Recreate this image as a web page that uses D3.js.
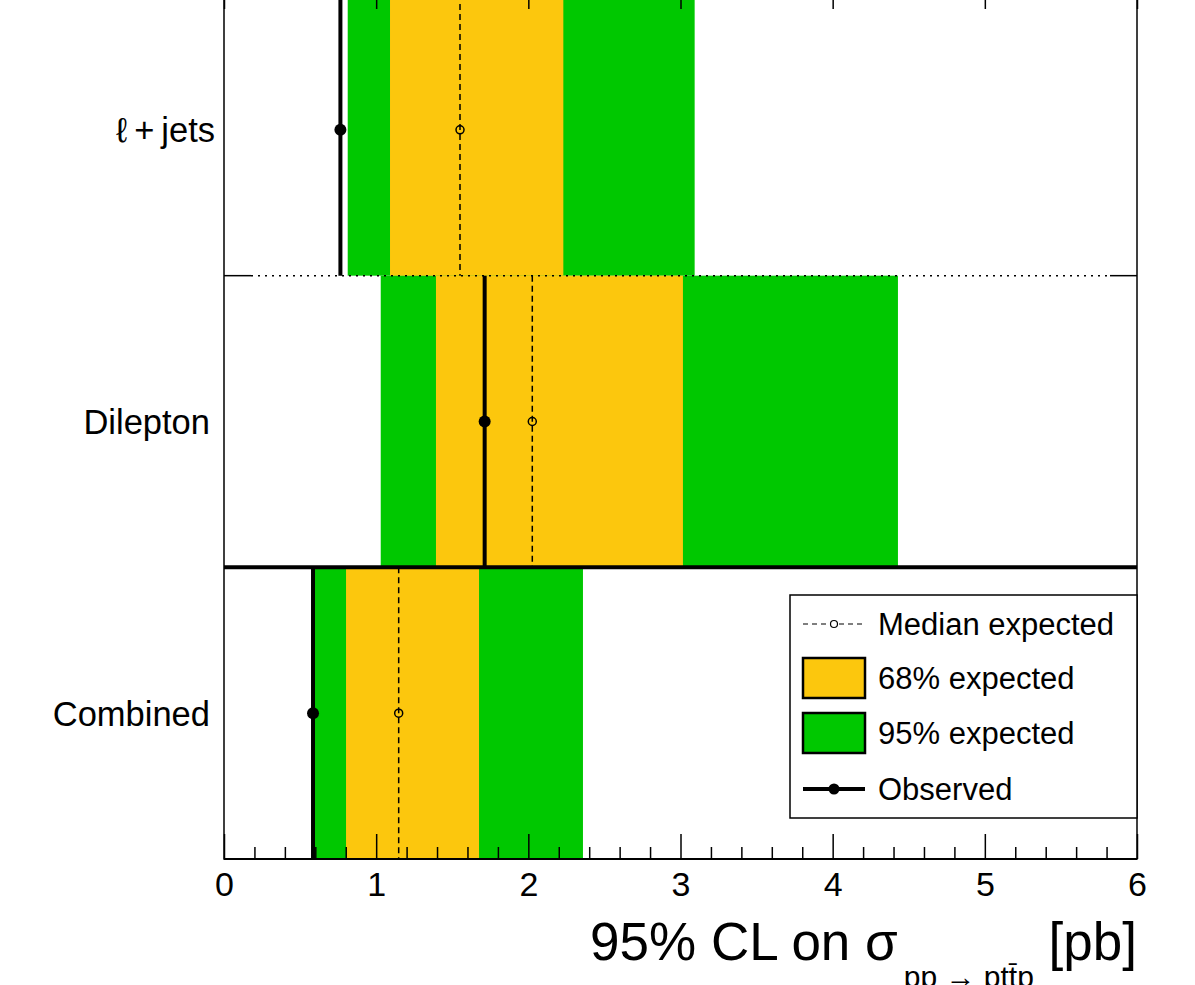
<!DOCTYPE html>
<html>
<head>
<meta charset="utf-8">
<script src="https://cdn.jsdelivr.net/npm/d3@7"></script>
<style>
    body { margin: 0; background: #fff; }
    text { font-family: 'Liberation Sans', Arial, Helvetica, sans-serif; fill: #000; }
</style>
</head>
<body>
<svg width="1195" height="985"></svg>
<script>
// channels, top to bottom
const channels = ['\u2113\u2009+\u2009jets', 'Dilepton', 'Combined'];
// limits in pb
const observed = [0.765, 1.713, 0.585];
const median = [1.551, 2.026, 1.148];
const lo68 = [1.091, 1.393, 0.802];
const hi68 = [2.230, 3.016, 1.676];
const lo95 = [0.813, 1.030, 0.598];
const hi95 = [3.093, 4.429, 2.359];
const xTicks = [0, 1, 2, 3, 4, 5, 6];
const legendLabels = ['Median expected', '68% expected', '95% expected', 'Observed'];

document.addEventListener('DOMContentLoaded', function() {
    let svg = d3.select('svg');

    let left = 224, right = 1137, top = -16, bottom = 859;
    let yellow = '#fcc70d', green = '#00c800';

    let x = d3.scaleLinear().domain([0, 6]).range([left, right]);
    let y = d3.scaleBand().domain(channels).range([top, bottom]);

    let rows = channels.map(function(c, i) {
        return { name: c, obs: observed[i], med: median[i],
                 lo68: lo68[i], hi68: hi68[i], lo95: lo95[i], hi95: hi95[i] };
    });

    let plot = svg.append('g').attr('class', 'bands');

    // 95% band
    plot.selectAll('rect.b95')
        .data(rows)
        .join('rect')
        .attr('class', 'b95')
        .attr('x', d => x(d.lo95))
        .attr('width', d => x(d.hi95) - x(d.lo95))
        .attr('y', d => y(d.name))
        .attr('height', y.bandwidth())
        .attr('fill', green);

    // 68% band
    plot.selectAll('rect.b68')
        .data(rows)
        .join('rect')
        .attr('class', 'b68')
        .attr('x', d => x(d.lo68))
        .attr('width', d => x(d.hi68) - x(d.lo68))
        .attr('y', d => y(d.name))
        .attr('height', y.bandwidth())
        .attr('fill', yellow);

    // median expected
    plot.selectAll('line.med')
        .data(rows)
        .join('line')
        .attr('class', 'med')
        .attr('x1', d => x(d.med)).attr('x2', d => x(d.med))
        .attr('y1', d => y(d.name)).attr('y2', d => y(d.name) + y.bandwidth())
        .attr('stroke', 'black')
        .attr('stroke-width', 1.5)
        .attr('stroke-dasharray', '6,4');

    plot.selectAll('circle.med')
        .data(rows)
        .join('circle')
        .attr('class', 'med')
        .attr('cx', d => x(d.med))
        .attr('cy', d => y(d.name) + y.bandwidth() / 2)
        .attr('r', 4)
        .attr('fill', 'none')
        .attr('stroke', 'black')
        .attr('stroke-width', 1.5);

    // observed
    plot.selectAll('line.obs')
        .data(rows)
        .join('line')
        .attr('class', 'obs')
        .attr('x1', d => x(d.obs)).attr('x2', d => x(d.obs))
        .attr('y1', d => y(d.name)).attr('y2', d => y(d.name) + y.bandwidth())
        .attr('stroke', 'black')
        .attr('stroke-width', 4);

    plot.selectAll('circle.obs')
        .data(rows)
        .join('circle')
        .attr('class', 'obs')
        .attr('cx', d => x(d.obs))
        .attr('cy', d => y(d.name) + y.bandwidth() / 2)
        .attr('r', 6)
        .attr('fill', 'black');

    // separators: dotted between single channels, thick above the combination
    let sep1 = y(channels[1]);
    svg.append('line')
        .attr('x1', left + 27).attr('x2', right - 27)
        .attr('y1', sep1).attr('y2', sep1)
        .attr('stroke', 'black').attr('stroke-width', 1.5)
        .attr('stroke-dasharray', '2,5');
    svg.append('line')
        .attr('x1', left).attr('x2', left + 27)
        .attr('y1', sep1).attr('y2', sep1)
        .attr('stroke', 'black').attr('stroke-width', 1.5);
    svg.append('line')
        .attr('x1', right - 27).attr('x2', right)
        .attr('y1', sep1).attr('y2', sep1)
        .attr('stroke', 'black').attr('stroke-width', 1.5);

    let sep2 = y(channels[2]);
    svg.append('line')
        .attr('x1', left).attr('x2', right)
        .attr('y1', sep2).attr('y2', sep2)
        .attr('stroke', 'black').attr('stroke-width', 4);

    // axes, ticks pointing inward
    let minor = d3.range(0, 30).map(i => i / 5).filter(v => v % 1 !== 0);

    let xAxis = svg.append('g')
        .attr('transform', 'translate(0,' + bottom + ')')
        .call(d3.axisBottom(x).tickValues(xTicks).tickSize(-25).tickPadding(13)
            .tickFormat(d3.format('d')));
    xAxis.call(g => g.select('.domain').remove());
    xAxis.selectAll('.tick line').attr('stroke-width', 1.5);
    xAxis.selectAll('text').attr('font-size', 34);

    let xMinor = svg.append('g')
        .attr('transform', 'translate(0,' + bottom + ')')
        .call(d3.axisBottom(x).tickValues(minor).tickSize(-12).tickFormat(''));
    xMinor.call(g => g.select('.domain').remove());
    xMinor.selectAll('.tick line').attr('stroke-width', 1.5);

    let xTop = svg.append('g')
        .attr('transform', 'translate(0,' + top + ')')
        .call(d3.axisTop(x).tickValues(xTicks).tickSize(-25).tickFormat(''));
    xTop.call(g => g.select('.domain').remove());
    xTop.selectAll('.tick line').attr('stroke-width', 1.5);

    // frame
    svg.append('rect')
        .attr('x', left).attr('y', top)
        .attr('width', right - left).attr('height', bottom - top)
        .attr('fill', 'none')
        .attr('stroke', 'black')
        .attr('stroke-width', 1.5);
    svg.append('line')
        .attr('x1', left).attr('x2', right)
        .attr('y1', bottom).attr('y2', bottom)
        .attr('stroke', 'black').attr('stroke-width', 2);

    // channel labels
    svg.append('g').selectAll('text')
        .data(channels)
        .join('text')
        .attr('x', (d, i) => i === 0 ? 215 : 210)
        .attr('y', d => y(d) + y.bandwidth() / 2)
        .attr('dy', '0.36em')
        .attr('text-anchor', 'end')
        .attr('font-size', 34.5)
        .text(d => d);

    // axis title
    let title = svg.append('text')
        .attr('x', right)
        .attr('y', 960)
        .attr('text-anchor', 'end')
        .attr('font-size', 53);
    title.append('tspan').text('95% CL on \u03c3');
    title.append('tspan').attr('font-size', 30).attr('dy', 27).attr('dx', 6)
        .text('pp \u2192 pt\u0074\u0304p');
    title.append('tspan').attr('dy', -27).text(' [pb]');

    // legend
    let lx = 790, ly = 595;
    let legend = svg.append('g');
    legend.append('rect')
        .attr('x', lx).attr('y', ly)
        .attr('width', right - lx).attr('height', 223)
        .attr('fill', 'white')
        .attr('stroke', 'black')
        .attr('stroke-width', 1.5);

    let rowY = [624, 678, 733, 789];
    let sx0 = 803, sx1 = 865, sxm = (sx0 + sx1) / 2;

    legend.append('line')
        .attr('x1', sx0).attr('x2', sx1).attr('y1', rowY[0]).attr('y2', rowY[0])
        .attr('stroke', 'black').attr('stroke-width', 1.2).attr('stroke-dasharray', '5,4');
    legend.append('circle')
        .attr('cx', sxm).attr('cy', rowY[0]).attr('r', 3.5)
        .attr('fill', 'white').attr('stroke', 'black').attr('stroke-width', 1.2);

    [yellow, green].forEach(function(c, i) {
        legend.append('rect')
            .attr('x', sx0).attr('y', rowY[i + 1] - 20)
            .attr('width', sx1 - sx0).attr('height', 40)
            .attr('fill', c)
            .attr('stroke', 'black').attr('stroke-width', 2.5);
    });

    legend.append('line')
        .attr('x1', sx0).attr('x2', sx1).attr('y1', rowY[3]).attr('y2', rowY[3])
        .attr('stroke', 'black').attr('stroke-width', 4);
    legend.append('circle')
        .attr('cx', sxm).attr('cy', rowY[3]).attr('r', 5.5).attr('fill', 'black');

    legend.selectAll('text')
        .data(legendLabels)
        .join('text')
        .attr('x', 878)
        .attr('y', (d, i) => rowY[i])
        .attr('dy', '0.36em')
        .attr('font-size', 31)
        .text(d => d);
});
</script>
</body>
</html>
